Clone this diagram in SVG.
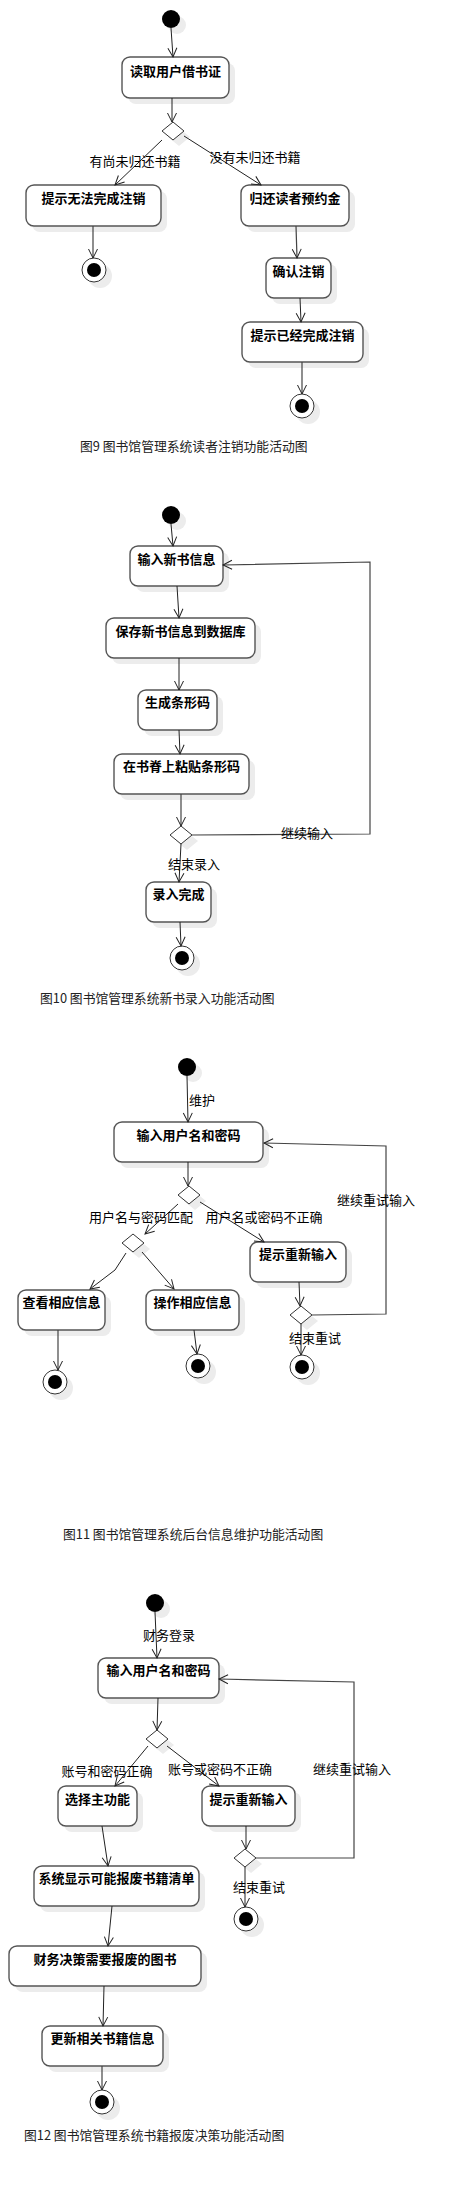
<svg xmlns="http://www.w3.org/2000/svg" width="454" height="2201" viewBox="0 0 454 2201">
<style>
.bx{fill:#fff;stroke:#555;stroke-width:1.4}
.sh{fill:#ececec;stroke:none}
.dm{fill:#fff;stroke:#333;stroke-width:1}
.st{fill:#000}
.eo{fill:#fff;stroke:#333;stroke-width:1}
.ei{fill:#000}
.t{font-family:"Noto Sans CJK SC","Noto Sans",sans-serif;font-size:13px;font-weight:bold;text-anchor:middle;fill:#000}
.l{font-family:"Noto Sans CJK SC","Noto Sans",sans-serif;font-size:13px;fill:#000}
.c{font-family:"Noto Sans CJK SC","Noto Sans",sans-serif;font-size:12.8px;fill:#222}
.e{fill:none;stroke:#222;stroke-width:1;marker-end:url(#arr)}
.p{fill:none;stroke:#444;stroke-width:1.2;marker-end:url(#arr)}
.m{text-anchor:middle}
</style>
<defs>
<marker id="arr" markerUnits="userSpaceOnUse" markerWidth="12" markerHeight="12" viewBox="-10 -6 12 12" refX="0" refY="0" orient="auto">
<path d="M-9,-4.5 L0,0 L-9,4.5" fill="none" stroke="#222" stroke-width="1"/>
</marker>
</defs>

<!-- ===== Diagram 9 ===== -->
<g id="start1"><circle class="sh" cx="177" cy="25" r="9"/><circle class="st" cx="171" cy="19" r="9"/></g>
<g id="n1_read"><rect class="sh" x="128" y="63" width="107" height="41" rx="8"/><rect class="bx" x="122" y="57" width="107" height="41" rx="8"/><text class="t" x="175.5" y="76">读取用户借书证</text></g>
<g id="d1"><polygon class="sh" points="179,128 190,137 179,146 168,137"/><polygon class="dm" points="173,122 184,131 173,140 162,131"/></g>
<g id="n1_fail"><rect class="sh" x="32" y="191" width="135" height="41" rx="8"/><rect class="bx" x="26" y="185" width="135" height="41" rx="8"/><text class="t" x="93.5" y="203">提示无法完成注销</text></g>
<g id="n1_return"><rect class="sh" x="247" y="191" width="108" height="41" rx="8"/><rect class="bx" x="241" y="185" width="108" height="41" rx="8"/><text class="t" x="295" y="203">归还读者预约金</text></g>
<g id="end1a"><circle class="sh" cx="100" cy="276" r="12"/><circle class="eo" cx="94" cy="270" r="12"/><circle class="ei" cx="94" cy="270" r="7"/></g>
<g id="n1_confirm"><rect class="sh" x="272" y="264" width="65" height="40" rx="8"/><rect class="bx" x="266" y="258" width="65" height="40" rx="8"/><text class="t" x="298.5" y="276">确认注销</text></g>
<g id="n1_done"><rect class="sh" x="248" y="328" width="121" height="40" rx="8"/><rect class="bx" x="242" y="322" width="121" height="40" rx="8"/><text class="t" x="302.5" y="340">提示已经完成注销</text></g>
<g id="end1b"><circle class="sh" cx="308" cy="412" r="12"/><circle class="eo" cx="302" cy="406" r="12"/><circle class="ei" cx="302" cy="406" r="7"/></g>
<text class="c" x="80" y="451">图9 图书馆管理系统读者注销功能活动图</text>

<!-- ===== Diagram 10 ===== -->
<g id="start2"><circle class="sh" cx="177" cy="521" r="9"/><circle class="st" cx="171" cy="515" r="9"/></g>
<g id="n2_input"><rect class="sh" x="136" y="552" width="93" height="40" rx="8"/><rect class="bx" x="130" y="546" width="93" height="40" rx="8"/><text class="t" x="176.5" y="564">输入新书信息</text></g>
<g id="n2_save"><rect class="sh" x="112" y="624" width="149" height="40" rx="8"/><rect class="bx" x="106" y="618" width="149" height="40" rx="8"/><text class="t" x="180.5" y="636">保存新书信息到数据库</text></g>
<g id="n2_gen"><rect class="sh" x="144" y="696" width="79" height="40" rx="8"/><rect class="bx" x="138" y="690" width="79" height="40" rx="8"/><text class="t" x="177.5" y="707">生成条形码</text></g>
<g id="n2_paste"><rect class="sh" x="120" y="760" width="135" height="40" rx="8"/><rect class="bx" x="114" y="754" width="135" height="40" rx="8"/><text class="t" x="181.5" y="771">在书脊上粘贴条形码</text></g>
<g id="d2"><polygon class="sh" points="187,832 198,841 187,850 176,841"/><polygon class="dm" points="181,826 192,835 181,844 170,835"/></g>
<g id="n2_done"><rect class="sh" x="152" y="888" width="65" height="40" rx="8"/><rect class="bx" x="146" y="882" width="65" height="40" rx="8"/><text class="t" x="178.5" y="899">录入完成</text></g>
<g id="end2"><circle class="sh" cx="188" cy="964" r="12"/><circle class="eo" cx="182" cy="958" r="12"/><circle class="ei" cx="182" cy="958" r="7"/></g>
<text class="c" x="40" y="1003">图10 图书馆管理系统新书录入功能活动图</text>

<!-- ===== Diagram 11 ===== -->
<g id="start3"><circle class="sh" cx="193" cy="1073" r="9"/><circle class="st" cx="187" cy="1067" r="9"/></g>
<g id="n3_input"><rect class="sh" x="120" y="1128" width="149" height="40" rx="8"/><rect class="bx" x="114" y="1122" width="149" height="40" rx="8"/><text class="t" x="188.5" y="1140">输入用户名和密码</text></g>
<g id="d3a"><polygon class="sh" points="195,1192 206,1201 195,1210 184,1201"/><polygon class="dm" points="189,1186 200,1195 189,1204 178,1195"/></g>
<g id="d3b"><polygon class="sh" points="139,1240 150,1249 139,1258 128,1249"/><polygon class="dm" points="133,1234 144,1243 133,1252 122,1243"/></g>
<g id="n3_retry"><rect class="sh" x="256" y="1248" width="96" height="40" rx="8"/><rect class="bx" x="250" y="1242" width="96" height="40" rx="8"/><text class="t" x="298" y="1259">提示重新输入</text></g>
<g id="d3c"><polygon class="sh" points="307,1312 318,1321 307,1330 296,1321"/><polygon class="dm" points="301,1306 312,1315 301,1324 290,1315"/></g>
<g id="n3_view"><rect class="sh" x="24" y="1296" width="87" height="40" rx="8"/><rect class="bx" x="18" y="1290" width="87" height="40" rx="8"/><text class="t" x="61.5" y="1307">查看相应信息</text></g>
<g id="n3_op"><rect class="sh" x="152" y="1296" width="93" height="40" rx="8"/><rect class="bx" x="146" y="1290" width="93" height="40" rx="8"/><text class="t" x="192.5" y="1307">操作相应信息</text></g>
<g id="end3a"><circle class="sh" cx="61" cy="1388" r="12"/><circle class="eo" cx="55" cy="1382" r="12"/><circle class="ei" cx="55" cy="1382" r="7"/></g>
<g id="end3b"><circle class="sh" cx="204" cy="1372" r="12"/><circle class="eo" cx="198" cy="1366" r="12"/><circle class="ei" cx="198" cy="1366" r="7"/></g>
<g id="end3c"><circle class="sh" cx="308" cy="1373" r="12"/><circle class="eo" cx="302" cy="1367" r="12"/><circle class="ei" cx="302" cy="1367" r="7"/></g>
<text class="c" x="63" y="1539">图11 图书馆管理系统后台信息维护功能活动图</text>

<!-- ===== Diagram 12 ===== -->
<g id="start4"><circle class="sh" cx="161" cy="1609" r="9"/><circle class="st" cx="155" cy="1603" r="9"/></g>
<g id="n4_input"><rect class="sh" x="104" y="1664" width="121" height="40" rx="8"/><rect class="bx" x="98" y="1658" width="121" height="40" rx="8"/><text class="t" x="158.5" y="1675">输入用户名和密码</text></g>
<g id="d4a"><polygon class="sh" points="163,1736 174,1745 163,1754 152,1745"/><polygon class="dm" points="157,1730 168,1739 157,1748 146,1739"/></g>
<g id="n4_select"><rect class="sh" x="64" y="1792" width="79" height="40" rx="8"/><rect class="bx" x="58" y="1786" width="79" height="40" rx="8"/><text class="t" x="97.5" y="1804">选择主功能</text></g>
<g id="n4_retry"><rect class="sh" x="208" y="1792" width="93" height="40" rx="8"/><rect class="bx" x="202" y="1786" width="93" height="40" rx="8"/><text class="t" x="248.5" y="1804">提示重新输入</text></g>
<g id="d4b"><polygon class="sh" points="251,1855 262,1864 251,1873 240,1864"/><polygon class="dm" points="245,1849 256,1858 245,1867 234,1858"/></g>
<g id="end4b"><circle class="sh" cx="252" cy="1925" r="12"/><circle class="eo" cx="246" cy="1919" r="12"/><circle class="ei" cx="246" cy="1919" r="7"/></g>
<g id="n4_list"><rect class="sh" x="40" y="1872" width="165" height="40" rx="8"/><rect class="bx" x="34" y="1866" width="165" height="40" rx="8"/><text class="t" x="116.5" y="1883">系统显示可能报废书籍清单</text></g>
<g id="n4_decide"><rect class="sh" x="15" y="1952" width="192" height="40" rx="8"/><rect class="bx" x="9" y="1946" width="192" height="40" rx="8"/><text class="t" x="105" y="1964">财务决策需要报废的图书</text></g>
<g id="n4_update"><rect class="sh" x="48" y="2032" width="121" height="40" rx="8"/><rect class="bx" x="42" y="2026" width="121" height="40" rx="8"/><text class="t" x="102.5" y="2043">更新相关书籍信息</text></g>
<g id="end4"><circle class="sh" cx="108" cy="2108" r="12"/><circle class="eo" cx="102" cy="2102" r="12"/><circle class="ei" cx="102" cy="2102" r="7"/></g>
<text class="c" x="24" y="2140">图12 图书馆管理系统书籍报废决策功能活动图</text>

<!-- ===== Connectors ===== -->
<g id="connectors">
<line class="e" x1="171" y1="28" x2="173" y2="57"/>
<line class="e" x1="172" y1="98" x2="172" y2="122"/>
<line class="e" x1="162" y1="140" x2="115" y2="185"/>
<line class="e" x1="184" y1="136" x2="261" y2="185"/>
<line class="p" x1="93" y1="226" x2="93" y2="258"/>
<line class="p" x1="296" y1="226" x2="297" y2="258"/>
<line class="e" x1="300" y1="298" x2="301" y2="322"/>
<line class="p" x1="302" y1="362" x2="302" y2="394"/>

<line class="e" x1="171" y1="524" x2="173" y2="546"/>
<line class="e" x1="177" y1="586" x2="179" y2="618"/>
<line class="e" x1="179" y1="658" x2="179" y2="690"/>
<line class="e" x1="179" y1="730" x2="180" y2="754"/>
<line class="p" x1="181" y1="794" x2="181" y2="826"/>
<polyline class="p" points="192,835 370,834 370,562 223,565"/>
<line class="e" x1="181" y1="844" x2="179" y2="882"/>
<line class="e" x1="180" y1="922" x2="181" y2="946"/>

<line class="e" x1="187" y1="1076" x2="188" y2="1122"/>
<line class="e" x1="188" y1="1162" x2="188" y2="1186"/>
<line class="e" x1="178" y1="1204" x2="145" y2="1234"/>
<line class="e" x1="200" y1="1202" x2="264" y2="1242"/>
<line class="e" x1="299" y1="1282" x2="300" y2="1306"/>
<polyline class="p" points="312,1315 386,1314 386,1146 264,1143"/>
<line class="e" x1="301" y1="1324" x2="301" y2="1355"/>
<polyline class="e" points="126,1253 115,1270 90,1289"/>
<line class="e" x1="142" y1="1252" x2="174" y2="1289"/>
<line class="p" x1="58" y1="1330" x2="58" y2="1370"/>
<line class="e" x1="194" y1="1330" x2="197" y2="1354"/>

<line class="e" x1="155" y1="1612" x2="157" y2="1658"/>
<line class="e" x1="158" y1="1698" x2="157" y2="1730"/>
<line class="e" x1="148" y1="1746" x2="115" y2="1786"/>
<line class="e" x1="167" y1="1746" x2="219" y2="1786"/>
<polyline class="p" points="256,1858 354,1858 354,1682 219,1679"/>
<line class="e" x1="246" y1="1826" x2="246" y2="1849"/>
<line class="e" x1="245" y1="1867" x2="245" y2="1907"/>
<line class="e" x1="102" y1="1826" x2="108" y2="1866"/>
<line class="e" x1="112" y1="1906" x2="108" y2="1946"/>
<line class="e" x1="104" y1="1986" x2="103" y2="2026"/>
<line class="p" x1="102" y1="2066" x2="102" y2="2090"/>

<text class="l m" x="135" y="166">有尚未归还书籍</text>
<text class="l m" x="255" y="162">没有未归还书籍</text>
<text class="l m" x="307" y="838">继续输入</text>
<text class="l m" x="194" y="869">结束录入</text>
<text class="l" x="189" y="1105">维护</text>
<text class="l m" x="141" y="1222">用户名与密码匹配</text>
<text class="l m" x="264" y="1222">用户名或密码不正确</text>
<text class="l m" x="376" y="1205">继续重试输入</text>
<text class="l m" x="315" y="1343">结束重试</text>
<text class="l m" x="169" y="1640">财务登录</text>
<text class="l m" x="107" y="1776">账号和密码正确</text>
<text class="l m" x="220" y="1774">账号或密码不正确</text>
<text class="l m" x="352" y="1774">继续重试输入</text>
<text class="l m" x="259" y="1892">结束重试</text>
</g>
</svg>
